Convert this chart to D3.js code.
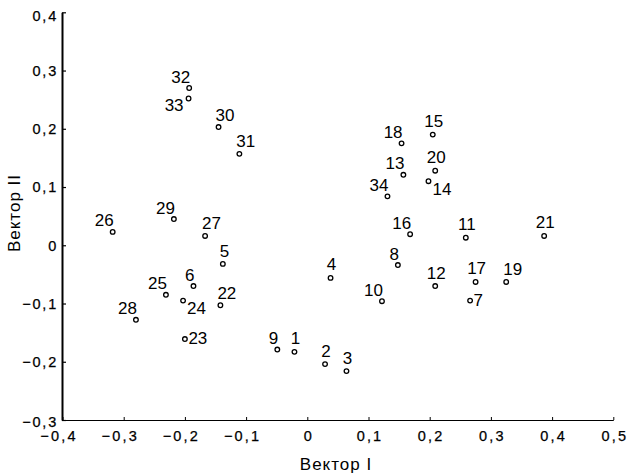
<!DOCTYPE html>
<html>
<head>
<meta charset="utf-8">
<script src="https://cdn.jsdelivr.net/npm/d3@7"></script>
<style>
  html, body { margin: 0; padding: 0; background: #fff; }
  svg { display: block; }
  text { font-family: "Liberation Sans", Arial, sans-serif; fill: #000; }
</style>
</head>
<body>
<div id="chart"></div>
<script>
// ---- data ----
const pointIds = ["1","2","3","4","5","6","7","8","9","10","11","12","13","14","15","16","17",
                  "18","19","20","21","22","23","24","25","26","27","28","29","30","31","32","33","34"];
const vectorI  = [-0.021, 0.029, 0.064, 0.038, -0.138, -0.186, 0.266, 0.148, -0.049, 0.122,
                  0.259, 0.209, 0.157, 0.198, 0.205, 0.168, 0.275, 0.154, 0.325, 0.209,
                  0.387, -0.142, -0.200, -0.203, -0.231, -0.318, -0.167, -0.280, -0.218, -0.145,
                  -0.111, -0.193, -0.194, 0.131];
const vectorII = [-0.183, -0.204, -0.216, -0.056, -0.032, -0.070, -0.095, -0.034, -0.179, -0.096,
                  0.013, -0.070, 0.121, 0.110, 0.190, 0.019, -0.063, 0.175, -0.063, 0.128,
                  0.016, -0.103, -0.161, -0.095, -0.085, 0.023, 0.016, -0.128, 0.045, 0.203,
                  0.157, 0.270, 0.252, 0.084];
// label placement relative to its point
const labelPlace = ["n","n","n","n","ne","nw","e","nw","nw","nw","n","n","nw","se","n","nw","n",
                    "nw","ne","n","n","ne","e","se","nw","nw","ne","nw","nw","ne","ne","nw","sw","nw"];
const xTicks = [-0.4, -0.3, -0.2, -0.1, 0, 0.1, 0.2, 0.3, 0.4, 0.5];
const yTicks = [-0.3, -0.2, -0.1, 0, 0.1, 0.2, 0.3, 0.4];
const xTitle = "Вектор I";
const yTitle = "Вектор II";

// ---- layout ----
const W = 632, H = 476;
const x = d3.scaleLinear().domain([-0.4, 0.5]).range([62.5, 613.3]);
const y = d3.scaleLinear().domain([-0.3, 0.4]).range([420, 12.3]);

const svg = d3.select("#chart").append("svg")
  .attr("width", W).attr("height", H)
  .style("background", "#fff");

const fmt = v => (v === 0 ? "0" : (v < 0 ? "\u2212" : "") +
                  d3.format(".1f")(Math.abs(v)).replace(".", ","));

// x axis
const xAxis = svg.append("g")
  .attr("transform", `translate(0,${y(-0.3)})`)
  .call(d3.axisBottom(x).tickValues(xTicks).tickSize(-3).tickSizeOuter(0).tickPadding(8)
        .tickFormat(fmt));
xAxis.attr("font-size", null).attr("font-family", null);
xAxis.select(".domain").attr("stroke", "#000").attr("stroke-width", 1.2);
xAxis.selectAll(".tick line").attr("stroke", "#000").attr("stroke-width", 1);
xAxis.selectAll(".tick text")
  .style("font-size", "14.5px")
  .style("letter-spacing", "2.2px")
  .attr("stroke", "#000").attr("stroke-width", 0.25)
  .attr("dx", d => (d < 0 ? -4 : 1))
  .attr("y", 10.5).attr("dy", "0.71em");

// y axis
const yAxis = svg.append("g")
  .attr("transform", `translate(${x(-0.4) - 0.5},0)`)
  .call(d3.axisLeft(y).tickValues(yTicks).tickSize(-4).tickSizeOuter(0).tickPadding(4)
        .tickFormat(fmt));
yAxis.attr("font-size", null).attr("font-family", null);
yAxis.select(".domain").attr("stroke", "#000").attr("stroke-width", 2);
yAxis.selectAll(".tick line").attr("stroke", "#000").attr("stroke-width", 1.2);
yAxis.selectAll(".tick text")
  .style("font-size", "14.5px")
  .style("letter-spacing", "1.8px")
  .attr("stroke", "#000").attr("stroke-width", 0.25)
  .attr("dy", d => (d === 0.4 ? "0.58em" : d === -0.3 ? "0.42em" : "0.34em"));
svg.selectAll(".tick text").attr("fill", "#000");

// axis titles
svg.append("text")
  .attr("x", 336).attr("y", 470)
  .attr("text-anchor", "middle")
  .style("font-size", "17px")
  .style("letter-spacing", "1px")
  .text(xTitle);
svg.append("text")
  .attr("transform", "translate(20,213) rotate(-90)")
  .attr("text-anchor", "middle")
  .style("font-size", "17px")
  .style("letter-spacing", "1px")
  .text(yTitle);

// points
const pts = pointIds.map((id, i) => ({ id, vx: vectorI[i], vy: vectorII[i], place: labelPlace[i] }));

svg.append("g").selectAll("circle").data(pts).join("circle")
  .attr("cx", d => x(d.vx)).attr("cy", d => y(d.vy))
  .attr("r", 2.3)
  .attr("fill", "#fff").attr("stroke", "#000").attr("stroke-width", 1.3);

const placeCfg = {
  n:  { anchor: "middle", dx: 1,   dy: -7.5 },
  nw: { anchor: "end",    dx: 1,   dy: -5.5 },
  ne: { anchor: "start",  dx: -3,  dy: -6.5 },
  e:  { anchor: "start",  dx: 3.5, dy: 5 },
  se: { anchor: "start",  dx: 4,   dy: 13.5 },
  sw: { anchor: "end",    dx: -5,  dy: 13 }
};

svg.append("g").selectAll("text").data(pts).join("text")
  .attr("x", d => x(d.vx) + placeCfg[d.place].dx)
  .attr("y", d => y(d.vy) + placeCfg[d.place].dy)
  .attr("text-anchor", d => placeCfg[d.place].anchor)
  .style("font-size", "17px")
  .text(d => d.id);
</script>
</body>
</html>
